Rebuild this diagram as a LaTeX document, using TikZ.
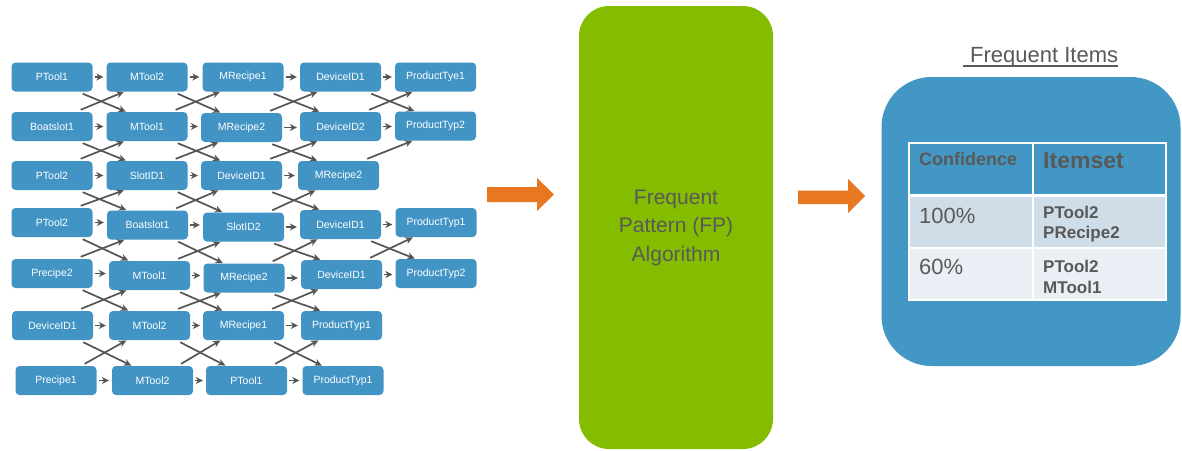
\documentclass[tikz,border=0pt]{standalone}
\usepackage{fontspec}
\setmainfont{Liberation Sans}
\usetikzlibrary{arrows.meta,calc}
\definecolor{boxblue}{RGB}{66,148,196}
\definecolor{bigblue}{RGB}{67,151,196}
\definecolor{fpgreen}{RGB}{132,189,0}
\definecolor{blockorange}{RGB}{232,119,34}
\definecolor{arrgray}{RGB}{85,85,85}
\definecolor{txtgray}{RGB}{89,89,89}
\definecolor{rowone}{RGB}{207,221,232}
\definecolor{rowtwo}{RGB}{233,239,245}
\tikzset{
  bx/.style={rectangle, rounded corners=4pt, fill=boxblue, text=white,
    minimum width=81pt, minimum height=29pt, inner sep=0pt,
    font=\fontsize{10.5}{12}\selectfont},
  harr/.style={draw=arrgray, line width=1.7pt, -{Stealth[length=7pt,width=7pt]},
    shorten <=2pt, shorten >=3pt},
  xarr/.style={draw=arrgray, line width=1.7pt, -{Stealth[length=7.5pt,width=7pt]},
    shorten >=0.5pt},
  tx/.style={inner sep=0pt, anchor=base west, text=txtgray},
}
\newcommand\mydown[2]{\draw[xarr] ([xshift=-10pt,yshift=-2pt]#1.south east) -- ([xshift=20pt]#2.north west);}
\newcommand\myup[2]{\draw[xarr] ([xshift=-12pt,yshift=2pt]#1.north east) -- ([xshift=18pt]#2.south west);}
\newcommand\myx[4]{\mydown{#1}{#4}\myup{#3}{#2}}
\newcommand\myh[2]{\draw[harr] (#1.east) -- (#1.east -| #2.west);}
\begin{document}
\begin{tikzpicture}[x=1pt,y=-1pt]
\useasboundingbox (0,0) rectangle (1182,450);
\fill[white] (0,0) rectangle (1182,450);

% row 1
\node[bx] (r1c1) at (52,77) {PTool1};
\node[bx] (r1c2) at (147,77) {MTool2};
\node[bx] (r1c3) at (243,77) {MRecipe1};
\node[bx] (r1c4) at (340.5,77) {DeviceID1};
\node[bx] (r1c5) at (435.5,77) {ProductTye1};
% row 2
\node[bx] (r2c1) at (52,126.5) {Boatslot1};
\node[bx] (r2c2) at (147,126.5) {MTool1};
\node[bx] (r2c3) at (241.5,127.5) {MRecipe2};
\node[bx] (r2c4) at (340.5,126.5) {DeviceID2};
\node[bx] (r2c5) at (435.5,126) {ProductTyp2};
% row 3
\node[bx] (r3c1) at (52,175.5) {PTool2};
\node[bx] (r3c2) at (147,175.5) {SlotID1};
\node[bx] (r3c3) at (241.5,175.5) {DeviceID1};
\node[bx] (r3c4) at (338.5,175.5) {MRecipe2};
% row 4
\node[bx] (r4c1) at (52,222.5) {PTool2};
\node[bx] (r4c2) at (147.5,225) {Boatslot1};
\node[bx] (r4c3) at (243.5,227) {SlotID2};
\node[bx] (r4c4) at (340.5,224.5) {DeviceID1};
\node[bx] (r4c5) at (436,222.5) {ProductTyp1};
% row 5
\node[bx] (r5c1) at (52,273.5) {Precipe2};
\node[bx] (r5c2) at (149.5,275.5) {MTool1};
\node[bx] (r5c3) at (244,278) {MRecipe2};
\node[bx] (r5c4) at (341.5,274.5) {DeviceID1};
\node[bx] (r5c5) at (436,273.5) {ProductTyp2};
% row 6
\node[bx] (r6c1) at (52.5,325.5) {DeviceID1};
\node[bx] (r6c2) at (149.5,325.5) {MTool2};
\node[bx] (r6c3) at (243.5,325.5) {MRecipe1};
\node[bx] (r6c4) at (341.5,325.5) {ProductTyp1};
% row 7
\node[bx] (r7c1) at (56,380.5) {Precipe1};
\node[bx] (r7c2) at (152.5,380.5) {MTool2};
\node[bx] (r7c3) at (246.5,380.5) {PTool1};
\node[bx] (r7c4) at (343,380.5) {ProductTyp1};

% horizontal arrows
\myh{r1c1}{r1c2}\myh{r1c2}{r1c3}\myh{r1c3}{r1c4}\myh{r1c4}{r1c5}
\myh{r2c1}{r2c2}\myh{r2c2}{r2c3}\myh{r2c3}{r2c4}\myh{r2c4}{r2c5}
\myh{r3c1}{r3c2}\myh{r3c2}{r3c3}\myh{r3c3}{r3c4}
\myh{r4c1}{r4c2}\myh{r4c2}{r4c3}\myh{r4c3}{r4c4}\myh{r4c4}{r4c5}
\myh{r5c1}{r5c2}\myh{r5c2}{r5c3}\myh{r5c3}{r5c4}\myh{r5c4}{r5c5}
\myh{r6c1}{r6c2}\myh{r6c2}{r6c3}\myh{r6c3}{r6c4}
\myh{r7c1}{r7c2}\myh{r7c2}{r7c3}\myh{r7c3}{r7c4}

% crossing arrows: \myx{upper-left}{upper-right}{lower-left}{lower-right}
\myx{r1c1}{r1c2}{r2c1}{r2c2}\myx{r1c2}{r1c3}{r2c2}{r2c3}
\myx{r1c3}{r1c4}{r2c3}{r2c4}\myx{r1c4}{r1c5}{r2c4}{r2c5}
\myx{r2c1}{r2c2}{r3c1}{r3c2}\myx{r2c2}{r2c3}{r3c2}{r3c3}
\myx{r2c3}{r2c4}{r3c3}{r3c4}\myup{r3c4}{r2c5}
\myx{r3c1}{r3c2}{r4c1}{r4c2}\myx{r3c2}{r3c3}{r4c2}{r4c3}
\myx{r3c3}{r3c4}{r4c3}{r4c4}
\myx{r4c1}{r4c2}{r5c1}{r5c2}\myx{r4c2}{r4c3}{r5c2}{r5c3}
\myx{r4c3}{r4c4}{r5c3}{r5c4}\myx{r4c4}{r4c5}{r5c4}{r5c5}
\myx{r5c1}{r5c2}{r6c1}{r6c2}\myx{r5c2}{r5c3}{r6c2}{r6c3}
\myx{r5c3}{r5c4}{r6c3}{r6c4}
\myx{r6c1}{r6c2}{r7c1}{r7c2}\myx{r6c2}{r6c3}{r7c2}{r7c3}
\myx{r6c3}{r6c4}{r7c3}{r7c4}

% block arrows
\fill[blockorange] (487,187) -- (537,187) -- (537,178) -- (554,194.5) -- (537,211) -- (537,202) -- (487,202) -- cycle;
\fill[blockorange] (798,190.5) -- (848,190.5) -- (848,179) -- (865,196) -- (848,213) -- (848,204) -- (798,204) -- cycle;

% FP box
\node[rectangle, rounded corners=30pt, fill=fpgreen, minimum width=194pt, minimum height=443pt,
  inner sep=0pt, align=center, text=txtgray, font=\fontsize{21}{28.5}\selectfont] (fp) at (676,227.5)
  {Frequent\\Pattern (FP)\\Algorithm};

% result box
\node[tx, font=\fontsize{22}{24}\selectfont] (title) at (970,62) {Frequent Items};
\draw[txtgray, line width=1.2pt] ([xshift=-7pt,yshift=-4pt]title.base west) -- ([yshift=-4pt]title.base east);
\node[rectangle, rounded corners=50pt, fill=bigblue, minimum width=299pt, minimum height=289pt, inner sep=0pt] (res) at (1031,221.5) {};

\fill[rowone] (909,196) rectangle (1166,248);
\fill[rowtwo] (909,248) rectangle (1166,300);
\draw[white, line width=1.5pt] (909,143) rectangle (1166,300);
\draw[white, line width=3pt] (909,195.5) -- (1166,195.5);
\draw[white, line width=2pt] (909,248) -- (1166,248);
\draw[white, line width=1.5pt] (1033,143) -- (1033,300);

\node[tx, font=\bfseries\fontsize{18}{20}\selectfont] (hconf) at (919,165) {Confidence};
\node[tx, font=\bfseries\fontsize{23}{25}\selectfont] (hitem) at (1043,168) {Itemset};
\node[tx, font=\fontsize{22}{24}\selectfont] (c1) at (919,223) {100\%};
\node[tx, font=\fontsize{22}{24}\selectfont] (c2) at (919,274) {60\%};
\node[tx, font=\bfseries\fontsize{17}{20}\selectfont] (i1a) at (1043,218) {PTool2};
\node[tx, font=\bfseries\fontsize{17}{20}\selectfont] (i1b) at (1043,238) {PRecipe2};
\node[tx, font=\bfseries\fontsize{17}{20}\selectfont] (i2a) at (1043,272) {PTool2};
\node[tx, font=\bfseries\fontsize{17}{20}\selectfont] (i2b) at (1043,293) {MTool1};
\end{tikzpicture}
\end{document}
